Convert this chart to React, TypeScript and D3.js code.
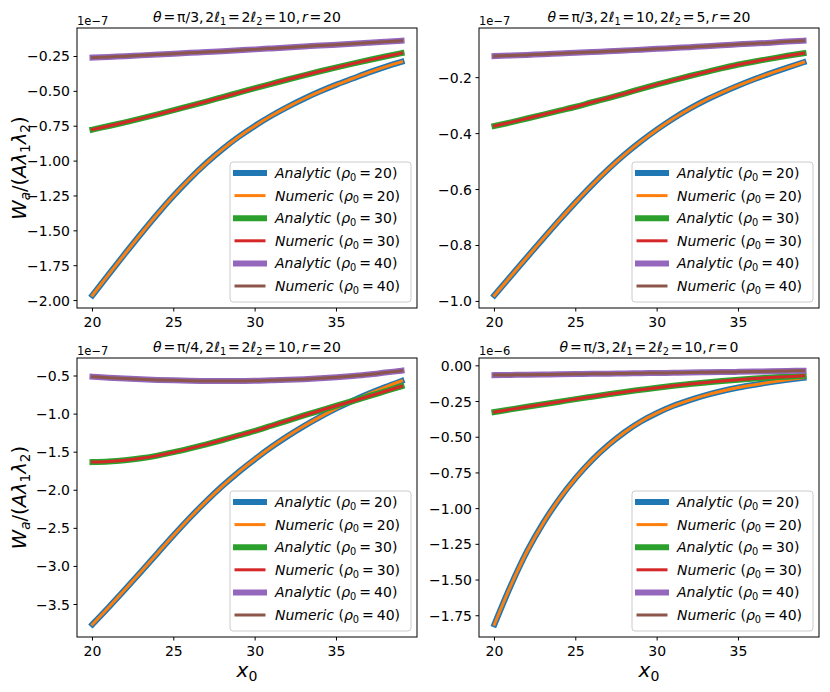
import React from 'react';
import * as d3 from 'd3';

// x0 sample positions
const xValues = [20, 21, 22, 23, 24, 25, 26, 27, 28, 29, 30, 31, 32, 33, 34, 35, 36, 37, 38, 39];

// Top-left: θ=π/3, 2ℓ1=2ℓ2=10, r=20 (×1e−7)
const tlRho20 = [-1.962, -1.812, -1.664, -1.519, -1.379, -1.247, -1.125, -1.014, -0.914, -0.825, -0.746, -0.675, -0.611, -0.553, -0.500, -0.452, -0.408, -0.364, -0.324, -0.288];
const tlRho30 = [-0.774, -0.748, -0.722, -0.694, -0.665, -0.635, -0.604, -0.573, -0.541, -0.509, -0.477, -0.446, -0.415, -0.385, -0.356, -0.328, -0.301, -0.275, -0.250, -0.226];
const tlRho40 = [-0.258, -0.253, -0.248, -0.242, -0.236, -0.230, -0.224, -0.218, -0.212, -0.205, -0.199, -0.192, -0.185, -0.178, -0.172, -0.165, -0.158, -0.151, -0.144, -0.137];

// Top-right: θ=π/3, 2ℓ1=10, 2ℓ2=5, r=20 (×1e−7)
const trRho20 = [-0.978, -0.910, -0.842, -0.775, -0.709, -0.645, -0.584, -0.527, -0.475, -0.428, -0.385, -0.346, -0.311, -0.280, -0.253, -0.228, -0.205, -0.184, -0.164, -0.145];
const trRho30 = [-0.373, -0.360, -0.346, -0.332, -0.318, -0.304, -0.288, -0.273, -0.257, -0.240, -0.224, -0.209, -0.194, -0.180, -0.166, -0.153, -0.142, -0.132, -0.122, -0.113];
const trRho40 = [-0.123, -0.121, -0.119, -0.116, -0.114, -0.111, -0.108, -0.106, -0.103, -0.100, -0.097, -0.094, -0.091, -0.088, -0.084, -0.081, -0.078, -0.075, -0.071, -0.068];

// Bottom-left: θ=π/4, 2ℓ1=2ℓ2=10, r=20 (×1e−7)
const blRho20 = [-3.760, -3.535, -3.303, -3.066, -2.826, -2.588, -2.358, -2.142, -1.942, -1.758, -1.590, -1.433, -1.289, -1.157, -1.036, -0.925, -0.824, -0.731, -0.645, -0.565];
const blRho30 = [-1.63, -1.622, -1.605, -1.58, -1.545, -1.50, -1.45, -1.397, -1.34, -1.28, -1.22, -1.153, -1.085, -1.018, -0.953, -0.89, -0.828, -0.765, -0.70, -0.635];
const blRho40 = [-0.51, -0.522, -0.533, -0.543, -0.551, -0.557, -0.562, -0.565, -0.566, -0.565, -0.562, -0.557, -0.550, -0.541, -0.530, -0.517, -0.50, -0.48, -0.455, -0.43];

// Bottom-right: θ=π/3, 2ℓ1=2ℓ2=10, r=0 (×1e−6)
const brRho20 = [-1.81, -1.54, -1.30, -1.10, -0.93, -0.785, -0.66, -0.555, -0.465, -0.39, -0.33, -0.28, -0.24, -0.205, -0.176, -0.152, -0.132, -0.114, -0.098, -0.084];
const brRho30 = [-0.323, -0.305, -0.287, -0.269, -0.251, -0.233, -0.216, -0.199, -0.183, -0.168, -0.153, -0.139, -0.127, -0.116, -0.106, -0.097, -0.089, -0.082, -0.076, -0.070];
const brRho40 = [-0.065, -0.064, -0.062, -0.061, -0.059, -0.058, -0.056, -0.055, -0.053, -0.052, -0.050, -0.049, -0.047, -0.045, -0.044, -0.042, -0.040, -0.038, -0.036, -0.034];

const xTicks = [20, 25, 30, 35];
const tlYTicks = [-2.0, -1.75, -1.5, -1.25, -1.0, -0.75, -0.5, -0.25];
const trYTicks = [-1.0, -0.8, -0.6, -0.4, -0.2];
const blYTicks = [-3.5, -3.0, -2.5, -2.0, -1.5, -1.0, -0.5];
const brYTicks = [-1.75, -1.5, -1.25, -1.0, -0.75, -0.5, -0.25, 0.0];

const rhoLabels = ['20', '30', '40'];
const methodLabels = ['Analytic', 'Numeric'];

// ---------- styles / layout ----------
const W = 830;
const H = 692;
const FONT = "'DejaVu Sans', 'Liberation Sans', sans-serif";
const analyticColors = ['#1f77b4', '#2ca02c', '#9467bd'];
const numericColors = ['#ff7f0e', '#d62728', '#8c564b'];
const analyticWidth = 6;
const numericWidth = 3;

type Seg = { t: string; i?: boolean; s?: boolean; dx?: number };

function Rich(props: { segs: Seg[]; size: number; x: number; y: number; anchor?: string; transform?: string }) {
  const { segs, size, x, y, anchor, transform } = props;
  const shift = size * 0.2;
  let prevSub = false;
  return (
    <text
      x={x}
      y={y}
      fontSize={size}
      fontFamily={FONT}
      textAnchor={anchor || 'start'}
      transform={transform}
      fill="#000"
      style={{ whiteSpace: 'pre' }}
    >
      {segs.map((g, k) => {
        const dy = (g.s ? shift : 0) - (prevSub ? shift : 0);
        prevSub = !!g.s;
        return (
          <tspan key={k} dx={g.dx || 0} dy={dy} fontStyle={g.i ? 'italic' : 'normal'} fontSize={g.s ? size * 0.7 : size}>
            {g.t}
          </tspan>
        );
      })}
    </text>
  );
}

const EQ = 1.8; // relation spacing (px)
const CM = 1.8; // spacing after comma (px)

function titleSegs(theta: string, l1: string, l2: string, r: string, sameL: boolean): Seg[] {
  const head: Seg[] = [
    { t: 'θ', i: true }, { t: '=', dx: EQ }, { t: 'π', dx: EQ }, { t: '/' + theta + ',' },
    { t: '2', dx: CM }, { t: 'ℓ', i: true }, { t: '1', s: true },
  ];
  const mid: Seg[] = sameL
    ? [{ t: '=', dx: EQ }, { t: '2', dx: EQ }, { t: 'ℓ', i: true }, { t: '2', s: true }, { t: '=', dx: EQ }, { t: l2 + ',', dx: EQ }]
    : [{ t: '=', dx: EQ }, { t: l1 + ',', dx: EQ }, { t: '2', dx: CM }, { t: 'ℓ', i: true }, { t: '2', s: true }, { t: '=', dx: EQ }, { t: l2 + ',', dx: EQ }];
  const tail: Seg[] = [{ t: 'r', i: true, dx: CM }, { t: '=', dx: EQ }, { t: r, dx: EQ }];
  return [...head, ...mid, ...tail];
}

const yLabelSegs: Seg[] = [
  { t: 'W', i: true }, { t: 'a', i: true, s: true }, { t: '/(' }, { t: 'A', i: true }, { t: 'λ', i: true },
  { t: '1', s: true }, { t: 'λ', i: true }, { t: '2', s: true }, { t: ')' },
];
const xLabelSegs: Seg[] = [{ t: 'x', i: true }, { t: '0', s: true }];

type PanelDef = {
  frame: { x: number; y: number; w: number; h: number };
  title: Seg[];
  offset: string;
  yTicks: number[];
  yDec: number;
  series: number[][];
  showYLabel: boolean;
  showXLabel: boolean;
};

const panels: PanelDef[] = [
  { frame: { x: 77, y: 28, w: 340, h: 280 }, title: titleSegs('3', '10', '10', '20', true), offset: '1e−7', yTicks: tlYTicks, yDec: 2, series: [tlRho20, tlRho30, tlRho40], showYLabel: true, showXLabel: false },
  { frame: { x: 479, y: 28, w: 340, h: 280 }, title: titleSegs('3', '10', '5', '20', false), offset: '1e−7', yTicks: trYTicks, yDec: 1, series: [trRho20, trRho30, trRho40], showYLabel: false, showXLabel: false },
  { frame: { x: 77, y: 358, w: 340, h: 279 }, title: titleSegs('4', '10', '10', '20', true), offset: '1e−7', yTicks: blYTicks, yDec: 1, series: [blRho20, blRho30, blRho40], showYLabel: true, showXLabel: true },
  { frame: { x: 479, y: 358, w: 340, h: 279 }, title: titleSegs('3', '10', '10', '0', true), offset: '1e−6', yTicks: brYTicks, yDec: 2, series: [brRho20, brRho30, brRho40], showYLabel: false, showXLabel: true },
];

function Panel({ p }: { p: PanelDef }) {
  const f = p.frame;
  const [x0, x1] = d3.extent(xValues) as [number, number];
  const xPad = (x1 - x0) * 0.05;
  const x = d3.scaleLinear().domain([x0 - xPad, x1 + xPad]).range([f.x, f.x + f.w]);
  const [mn, mx] = d3.extent(p.series.flat()) as [number, number];
  const yPad = (mx - mn) * 0.05;
  const y = d3.scaleLinear().domain([mn - yPad, mx + yPad]).range([f.y + f.h, f.y]);
  const line = d3
    .line<number>()
    .x((_, i) => x(xValues[i]))
    .y((d) => y(d))
    .curve(d3.curveMonotoneX);
  const fmt = d3.format(`.${p.yDec}f`);
  const tickFmt = (v: number) => (Math.abs(v) < 1e-12 ? fmt(0) : fmt(v).replace('-', '−'));

  const lg = { w: 181, h: 140 };
  const lgX = f.x + f.w - 6 - lg.w;
  const lgY = f.y + f.h - 6 - lg.h;
  const rowGap = 22.6;

  const legendItems: { color: string; width: number; method: string; rho: string }[] = [];
  rhoLabels.forEach((rho, k) => {
    legendItems.push({ color: analyticColors[k], width: analyticWidth, method: methodLabels[0], rho });
    legendItems.push({ color: numericColors[k], width: numericWidth, method: methodLabels[1], rho });
  });

  return (
    <g>
      {p.series.map((s, k) => (
        <g key={k}>
          <path d={line(s) || ''} fill="none" stroke={analyticColors[k]} strokeWidth={analyticWidth} strokeLinecap="square" strokeLinejoin="round" />
          <path d={line(s) || ''} fill="none" stroke={numericColors[k]} strokeWidth={numericWidth} strokeLinecap="square" strokeLinejoin="round" />
        </g>
      ))}
      <rect x={f.x} y={f.y} width={f.w} height={f.h} fill="none" stroke="#000" strokeWidth={1} />
      {xTicks.map((t) => (
        <g key={t}>
          <line x1={x(t)} x2={x(t)} y1={f.y + f.h} y2={f.y + f.h + 3.5} stroke="#000" strokeWidth={1} />
          <text x={x(t)} y={f.y + f.h + 19} fontSize={14} fontFamily={FONT} textAnchor="middle" fill="#000">
            {t}
          </text>
        </g>
      ))}
      {p.yTicks.map((t) => (
        <g key={t}>
          <line x1={f.x - 3.5} x2={f.x} y1={y(t)} y2={y(t)} stroke="#000" strokeWidth={1} />
          <text x={f.x - 7} y={y(t) + 5} fontSize={14} fontFamily={FONT} textAnchor="end" fill="#000">
            {tickFmt(t)}
          </text>
        </g>
      ))}
      <text x={f.x} y={f.y - 3} fontSize={11.5} fontFamily={FONT} fill="#000">
        {p.offset}
      </text>
      <Rich segs={p.title} size={14} x={f.x + f.w / 2} y={f.y - 6} anchor="middle" />
      {p.showYLabel && (
        <Rich segs={yLabelSegs} size={19.5} x={0} y={0} anchor="middle" transform={`translate(26,${f.y + f.h / 2}) rotate(-90)`} />
      )}
      {p.showXLabel && <Rich segs={xLabelSegs} size={20} x={f.x + f.w / 2} y={677} anchor="middle" />}
      <rect x={lgX} y={lgY} width={lg.w} height={lg.h} rx={3} ry={3} fill="#fff" fillOpacity={0.8} stroke="#cccccc" strokeWidth={1} />
      {legendItems.map((it, k) => {
        const cy = lgY + 11 + k * rowGap;
        return (
          <g key={k}>
            <line x1={lgX + 6} x2={lgX + 34} y1={cy} y2={cy} stroke={it.color} strokeWidth={it.width} strokeLinecap="square" />
            <Rich
              segs={[
                { t: it.method, i: true }, { t: ' (' }, { t: 'ρ', i: true }, { t: '0', s: true },
                { t: '=', dx: 3 }, { t: it.rho, dx: 3 }, { t: ')' },
              ]}
              size={14}
              x={lgX + 45}
              y={cy + 5}
            />
          </g>
        );
      })}
    </g>
  );
}

export default function App() {
  return (
    <svg
      width={W}
      height={H}
      viewBox={`0 0 ${W} ${H}`}
      style={{ position: 'absolute', left: 0, top: 0, background: '#fff' }}
    >
      <rect x={0} y={0} width={W} height={H} fill="#fff" />
      {panels.map((p, i) => (
        <Panel key={i} p={p} />
      ))}
    </svg>
  );
}
